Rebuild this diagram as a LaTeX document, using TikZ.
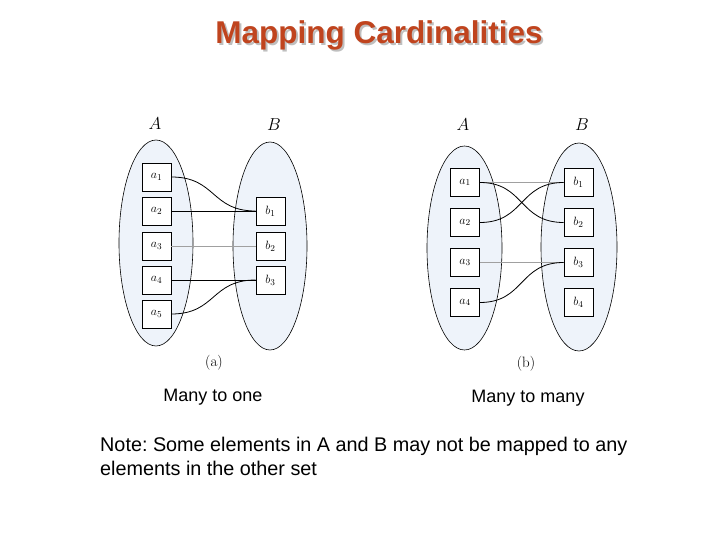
\documentclass[tikz,border=0pt]{standalone}
\usepackage{fontspec}
\setmainfont{Liberation Sans}
\newfontfamily\lmfont{Latin Modern Roman}
\definecolor{titlered}{HTML}{C0441E}
\definecolor{setfill}{HTML}{EEF3FA}
\definecolor{linkgray}{HTML}{A0A0A0}
\frenchspacing
\newcommand{\shadowtitle}[1]{\makebox[0pt][l]{\hspace{2pt}\raisebox{-2pt}{\textcolor{gray!50}{#1}}}\textcolor{titlered}{#1}}
\begin{document}
\begin{tikzpicture}[x=1pt,y=-1pt,
  setshape/.style={draw=black,line width=0.6pt,fill=setfill},
  elem/.style={draw=black,line width=0.6pt,fill=white,minimum width=29pt,minimum height=28pt,inner sep=0pt,font=\lmfont\fontsize{12.5}{14}\selectfont},
  setlabel/.style={font=\lmfont\itshape\fontsize{17}{19}\selectfont},
  link/.style={line width=0.8pt,black},
  glink/.style={line width=1pt,linkgray},
  caption/.style={font=\fontsize{18}{21}\selectfont},
  titlefont/.style={font=\bfseries\fontsize{31.5}{36}\selectfont}]
\useasboundingbox (0,0) rectangle (720,540);
\fill[white] (0,0) rectangle (720,540);
% title
\node[titlefont] (title) at (379,36) {\shadowtitle{Mapping Cardinalities}};
% ---------- (a) ----------
\draw[setshape] (156,243) ellipse [x radius=37,y radius=103];
\draw[setshape] (270,246) ellipse [x radius=37,y radius=104];
\node[setlabel] (LA1) at (155,124) {$A$};
\node[setlabel] (LB1) at (274,125) {$B$};
\node[elem] (a1) at (156.5,177) {$a_1$};
\node[elem] (a2) at (156.5,211) {$a_2$};
\node[elem] (a3) at (156.5,246) {$a_3$};
\node[elem] (a4) at (156.5,280) {$a_4$};
\node[elem] (a5) at (156.5,314) {$a_5$};
\node[elem] (b1) at (270.5,211) {$b_1$};
\node[elem] (b2) at (270.5,246) {$b_2$};
\node[elem] (b3) at (270.5,280) {$b_3$};
\draw[link] (a1.east) .. controls +(45,0) and +(-45,0) .. (b1.west);
\draw[link] (a2.east) -- (b1.west);
\draw[glink] (a3.east) -- (b2.west);
\draw[link] (a4.east) -- (b3.west);
\draw[link] (a5.east) .. controls +(45,0) and +(-45,0) .. (b3.west);
\node[font=\lmfont\fontsize{15}{17}\selectfont] (capa) at (214,363) {(a)};
% ---------- (b) ----------
\draw[setshape] (464.5,248) ellipse [x radius=37.5,y radius=102];
\draw[setshape] (579,247) ellipse [x radius=38,y radius=104];
\node[setlabel] (LA2) at (463,125) {$A$};
\node[setlabel] (LB2) at (582,125) {$B$};
\node[elem] (c1) at (465,182.5) {$a_1$};
\node[elem] (c2) at (465,222.5) {$a_2$};
\node[elem] (c3) at (465,262.5) {$a_3$};
\node[elem] (c4) at (465,302.5) {$a_4$};
\node[elem] (d1) at (578.5,182.5) {$b_1$};
\node[elem] (d2) at (578.5,222.5) {$b_2$};
\node[elem] (d3) at (578.5,262.5) {$b_3$};
\node[elem] (d4) at (578.5,302.5) {$b_4$};
\draw[glink] (c1.east) -- (d1.west);
\draw[link] (c1.east) .. controls +(45,0) and +(-45,0) .. (d2.west);
\draw[link] (c2.east) .. controls +(45,0) and +(-45,0) .. (d1.west);
\draw[glink] (c3.east) -- (d3.west);
\draw[link] (c4.east) .. controls +(45,0) and +(-45,0) .. (d3.west);
\node[font=\lmfont\fontsize{15}{17}\selectfont] (capb) at (526,364) {(b)};
% captions
\node[caption] (m1) at (213,397) {Many to one};
\node[caption] (m2) at (528,398) {Many to many};
\node[anchor=west,align=left,inner sep=0pt,font=\fontsize{19.8}{24}\selectfont] (note) at (100,456) {Note: Some elements in A and B may not be mapped to any\\elements in the other set};
\end{tikzpicture}
\end{document}
